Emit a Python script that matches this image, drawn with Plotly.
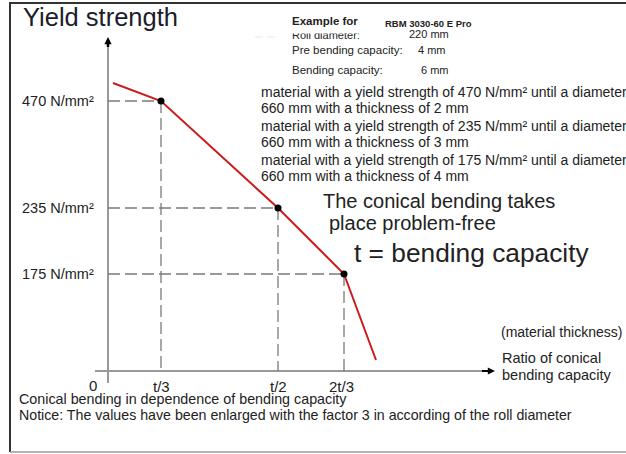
import plotly.graph_objects as go

# ---------------- data (schematic diagram units) ----------------
x_tick_pos = [53, 170, 236]                 # positions of t/3, t/2, 2t/3
x_tick_labels = ["t/3", "t/2", "2t/3"]
y_level_pos = [270, 163, 97]                # positions of the yield-strength levels
y_level_labels = ["470 N/mm²", "235 N/mm²", "175 N/mm²"]
curve_x = [5, 53, 170, 236, 268]
curve_y = [288, 270, 163, 97, 11]

material_lines = [
    "material with a yield strength of 470 N/mm² until a diameter of",
    "660 mm with a thickness of 2 mm",
    "material with a yield strength of 235 N/mm² until a diameter of",
    "660 mm with a thickness of 3 mm",
    "material with a yield strength of 175 N/mm² until a diameter of",
    "660 mm with a thickness of 4 mm",
]
example_labels = ["Roll diameter:", "Pre bending capacity:", "Bending capacity:"]
example_values = ["220 mm", "4 mm", "6 mm"]

W, H = 626, 454
OX, OY = 108, 371   # origin in pixels
FONT = "Liberation Sans, Arial, Helvetica, sans-serif"
TXT = "#222222"
RED = "#cc1b1b"


def PX(x):
    return x / W


def PY(y):
    return 1 - y / H


fig = go.Figure()

# axis lines
fig.add_trace(go.Scatter(x=[-13, 376], y=[0, 0], mode="lines",
                         line=dict(color="#999999", width=2), hoverinfo="skip"))
fig.add_trace(go.Scatter(x=[0, 0], y=[-12, 326], mode="lines",
                         line=dict(color="#999999", width=2), hoverinfo="skip"))
# black arrow shafts
fig.add_trace(go.Scatter(x=[0, 0], y=[324, 331], mode="lines",
                         line=dict(color="black", width=2.5), hoverinfo="skip"))
fig.add_trace(go.Scatter(x=[374, 384], y=[0, 0], mode="lines",
                         line=dict(color="black", width=2), hoverinfo="skip"))

# dashed guide lines
for xp, yp in zip(x_tick_pos, y_level_pos):
    fig.add_trace(go.Scatter(x=[0, xp], y=[yp, yp], mode="lines",
                             line=dict(color="#7a7a7a", width=1.3, dash="12px,5px"),
                             hoverinfo="skip"))
    fig.add_trace(go.Scatter(x=[xp, xp], y=[yp, 0], mode="lines",
                             line=dict(color="#7a7a7a", width=1.3, dash="12px,5px"),
                             hoverinfo="skip"))

# red curve
fig.add_trace(go.Scatter(x=curve_x, y=curve_y, mode="lines",
                         line=dict(color=RED, width=2), hoverinfo="skip"))
# black points
fig.add_trace(go.Scatter(x=x_tick_pos, y=y_level_pos, mode="markers",
                         marker=dict(color="black", size=7), hoverinfo="skip"))

ann = []


def txt(text, x, y, size, xanchor="left", bold=False, family=FONT, color=TXT):
    if bold:
        text = "<b>" + text + "</b>"
    ann.append(dict(text=text, x=PX(x), y=PY(y), xref="paper", yref="paper",
                    xanchor=xanchor, yanchor="middle", showarrow=False,
                    font=dict(family=family, size=size, color=color)))


# arrowheads on axes
ann.append(dict(x=0, y=334, ax=0, ay=326, xref="x", yref="y", axref="x", ayref="y",
                text="", showarrow=True, arrowhead=2, arrowsize=1.2, arrowwidth=1.2,
                arrowcolor="black"))
ann.append(dict(x=387, y=0, ax=378, ay=0, xref="x", yref="y", axref="x", ayref="y",
                text="", showarrow=True, arrowhead=2, arrowsize=1.2, arrowwidth=1.2,
                arrowcolor="black"))

# tick labels
for xp, lab in zip(x_tick_pos, x_tick_labels):
    ann.append(dict(text=lab, x=xp, y=-15, xref="x", yref="y", xanchor="center",
                    yanchor="middle", showarrow=False,
                    xshift=-3 if lab == "2t/3" else 0,
                    font=dict(family=FONT, size=15, color=TXT)))
ann.append(dict(text="0", x=-15, y=-14, xref="x", yref="y", xanchor="center",
                yanchor="middle", showarrow=False, font=dict(family=FONT, size=15, color=TXT)))
for yp, lab in zip(y_level_pos, y_level_labels):
    ann.append(dict(text=lab, x=-12, y=yp, xref="x", yref="y", xanchor="right",
                    yanchor="middle", showarrow=False, font=dict(family=FONT, size=14.5, color=TXT)))

# title
txt("Yield strength", 21, 17, 25.5, color="#1c1c2a")

# example block
txt("Roll diameter:", 290, 35, 11)
txt(example_values[0], 407, 34, 11)
ann.append(dict(text="", x=PX(285), y=PY(25), xref="paper", yref="paper",
                xanchor="left", yanchor="middle", showarrow=False,
                width=100, height=14, bgcolor="white"))
txt("Example for", 290, 21, 11.5, bold=True)
txt("RBM 3030-60 E Pro", 383, 24, 9.5, bold=True)
txt(example_labels[1], 290, 50, 11.5)
txt(example_values[1], 416, 50, 11)
txt(example_labels[2], 290, 70, 11.5)
txt(example_values[2], 419, 70, 11)

# material lines
ys = [92, 108, 126, 142, 160, 176]
for yy, line in zip(ys, material_lines):
    txt(line, 259, yy, 14)

txt("The conical bending takes", 321, 201, 20)
txt("place problem-free", 327, 223, 20)
txt("t = bending capacity", 352, 253, 26.3)
txt("(material thickness)", 499, 332, 14)
txt("Ratio of conical", 500, 358, 14.5)
txt("bending capacity", 500, 375, 14.5)
txt("Conical bending in dependence of bending capacity", 17, 399, 14.3)
txt("Notice: The values have been enlarged with the factor 3 in according of the roll diameter", 17, 415, 14.2)

shapes = [
    dict(type="line", xref="paper", yref="paper", x0=PX(10), x1=PX(10), y0=PY(3), y1=PY(452),
         line=dict(color="#333333", width=2)),
    dict(type="line", xref="paper", yref="paper", x0=PX(9), x1=1, y0=PY(3), y1=PY(3),
         line=dict(color="#333333", width=2)),
    dict(type="line", xref="paper", yref="paper", x0=PX(10), x1=1, y0=PY(452), y1=PY(452),
         line=dict(color="#9a9a9a", width=1.5)),
    dict(type="line", xref="paper", yref="paper", x0=PX(255), x1=PX(278), y0=PY(37), y1=PY(37),
         line=dict(color="#e6e6e6", width=1, dash="8px,4px")),
]

fig.update_layout(
    width=W, height=H,
    margin=dict(l=0, r=0, t=0, b=0),
    paper_bgcolor="white", plot_bgcolor="white",
    showlegend=False,
    xaxis=dict(range=[-OX, W - OX], visible=False, fixedrange=True),
    yaxis=dict(range=[OY - H, OY], visible=False, fixedrange=True),
    annotations=ann,
    shapes=shapes,
)

fig.write_html("out.html", config={"displayModeBar": False},
               post_script="document.body.style.margin='0';document.body.style.overflow='hidden';")
